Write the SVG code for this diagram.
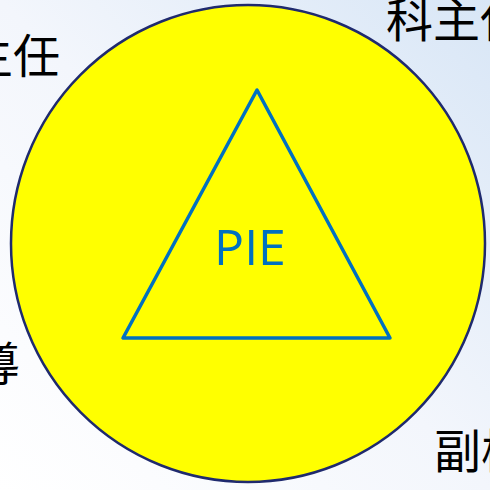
<svg xmlns="http://www.w3.org/2000/svg" width="490" height="490" viewBox="0 0 490 490">
<defs>
<linearGradient id="bg" x1="0" y1="1" x2="1" y2="0">
<stop offset="0" stop-color="#ffffff"/>
<stop offset="0.5" stop-color="#f3f6fc"/>
<stop offset="1" stop-color="#d8e6f6"/>
</linearGradient>
<style>
.lbl{font-family:"Noto Sans CJK TC","Noto Sans CJK SC",sans-serif;font-size:47px;fill:#000;}
.pie{font-family:"Open Sans","Noto Sans",sans-serif;font-size:50px;fill:#0070c0;}
</style>
</defs>
<rect width="490" height="490" fill="url(#bg)"/>
<g id="labels">
<text class="lbl" x="60" y="73" text-anchor="end">班主任</text>
<text class="lbl" x="386" y="37">科主任</text>
<text class="lbl" x="20" y="381" text-anchor="end">輔導</text>
<text class="lbl" x="434" y="468">副校長</text>
</g>
<g id="circle">
<ellipse cx="248" cy="243.5" rx="237" ry="238.5" fill="#ffff00" stroke="#1f2a6e" stroke-width="2.5"/>
</g>
<g id="triangle">
<polygon points="257,90 123,338 390,338" fill="none" stroke="#0070c0" stroke-width="3.5" stroke-linejoin="round"/>
<text class="pie" x="250" y="265" text-anchor="middle">PIE</text>
</g>
</svg>
